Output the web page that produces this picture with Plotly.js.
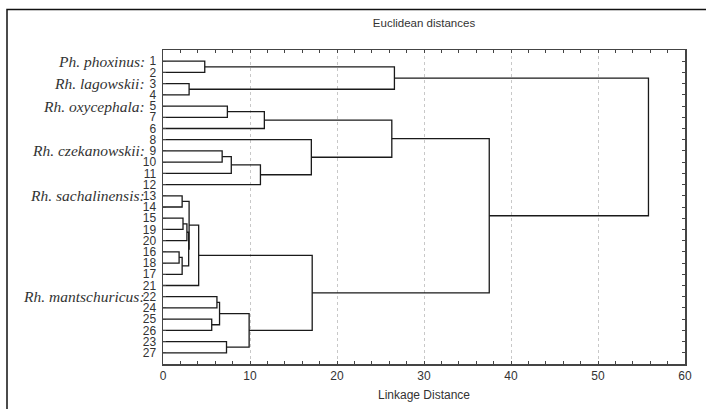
<!DOCTYPE html>
<html>
<head>
<meta charset="utf-8">
<script src="https://cdn.plot.ly/plotly-3.0.1.min.js"></script>
<style>
html,body{margin:0;padding:0;background:#fff;overflow:hidden;}
#chart{width:706px;height:409px;}
</style>
</head>
<body>
<div id="chart"></div>
<script>
// Leaf order (top to bottom)
const leafLabels = ['1','2','3','4','5','7','6','8','9','10','11','12','13','14','15','19','20','16','18','17','21','22','24','25','26','23','27'];

// Linkage: merge k creates cluster 'c'+k from mergeA[k] and mergeB[k] at mergeDist[k]
const mergeA    = ['1','3','c0','5','c3','9','c5','c6','8','c4','13','15','c11','16','c13','c12','c10','c16','22','25','c18','23','c20','c17','c9','c2'];
const mergeB    = ['2','4','c1','7','6','10','11','12','c7','c8','14','19','20','18','17','c14','c15','21','24','26','c19','27','c21','c22','c23','c24'];
const mergeDist = [4.8, 3.0, 26.6, 7.4, 11.65, 6.8, 7.85, 11.2, 17.05, 26.3, 2.2, 2.3, 2.75, 1.85, 2.2, 2.95, 3.0, 4.1, 6.2, 5.6, 6.5, 7.3, 9.9, 17.15, 37.5, 55.8];

// Species group labels and the leaf they sit beside
const speciesNames = ['Ph. phoxinus', 'Rh. lagowskii', 'Rh. oxycephala', 'Rh. czekanowskii', 'Rh. sachalinensis', 'Rh. mantschuricus'];
const speciesLeaf  = ['1', '3', '5', '9', '13', '22'];

const xTickVals = [0, 10, 20, 30, 40, 50, 60];

// Build dendrogram line segments from the linkage
const node = {};
leafLabels.forEach((l, i) => { node[l] = {x: 0, y: i}; });
const lx = [], ly = [];
mergeA.forEach((a, k) => {
  const A = node[a], B = node[mergeB[k]], h = mergeDist[k];
  lx.push(A.x, h, h, B.x, null);
  ly.push(A.y, A.y, B.y, B.y, null);
  node['c' + k] = {x: h, y: (A.y + B.y) / 2};
});

const trace = {
  x: lx, y: ly, type: 'scatter', mode: 'lines',
  line: {color: '#1a1a1a', width: 1.3},
  hoverinfo: 'skip', showlegend: false, connectgaps: false
};

const annotations = speciesNames.map((s, i) => ({
  text: s + ':', xref: 'paper', yref: 'y',
  x: 0, y: leafLabels.indexOf(speciesLeaf[i]),
  xanchor: 'right', yanchor: 'middle', xshift: -16, showarrow: false,
  font: {family: 'Liberation Serif', size: 15.5, color: '#333', style: 'italic'}
}));

// Outer frame (extends past the right and bottom edges)
const L = 163, R = 685, T = 50, Bm = 364;
const pw = R - L, ph = Bm - T;
const shapes = [{
  type: 'rect', xref: 'paper', yref: 'paper',
  x0: (7 - L) / pw, x1: (760 - L) / pw,
  y0: (Bm - 460) / ph, y1: (Bm - 9.5) / ph,
  line: {color: '#111', width: 1.5}, layer: 'below'
}];

const layout = {
  width: 706, height: 409,
  margin: {l: L, r: 706 - R, t: T, b: 409 - Bm, pad: 0},
  paper_bgcolor: '#fff', plot_bgcolor: '#fff',
  font: {family: 'Liberation Sans, Arial, sans-serif', color: '#333'},
  title: {text: 'Euclidean distances', x: 0.5, xref: 'paper', xanchor: 'center',
          y: 1 - 23 / 409, yanchor: 'middle', font: {size: 11.5, color: '#333'}},
  xaxis: {
    range: [0, 60], tickvals: xTickVals, ticks: 'inside', ticklen: 3, tickwidth: 1,
    tickcolor: '#444', showline: true, linecolor: '#444', linewidth: 1.5, mirror: 'ticks',
    showgrid: true, gridcolor: '#c8c8c8', griddash: 'dot', gridwidth: 1, zeroline: false,
    minor: {dtick: 2, ticks: 'inside', ticklen: 3, tickcolor: '#444', showgrid: false},
    tickfont: {size: 12, color: '#333'},
    title: {text: 'Linkage Distance', font: {size: 12, color: '#333'}, standoff: 8}
  },
  yaxis: {
    range: [27, -1], tickvals: leafLabels.map((_, i) => i), ticktext: leafLabels,
    ticks: 'inside', ticklen: 3, tickcolor: '#444', showline: true, linecolor: '#444',
    linewidth: 1.5, mirror: 'ticks', showgrid: false, zeroline: false,
    tickfont: {size: 12, color: '#333'}, ticklabelstandoff: 3
  },
  annotations: annotations,
  shapes: shapes,
  showlegend: false
};

Plotly.newPlot('chart', [trace], layout, {staticPlot: true, displayModeBar: false});
</script>
</body>
</html>
